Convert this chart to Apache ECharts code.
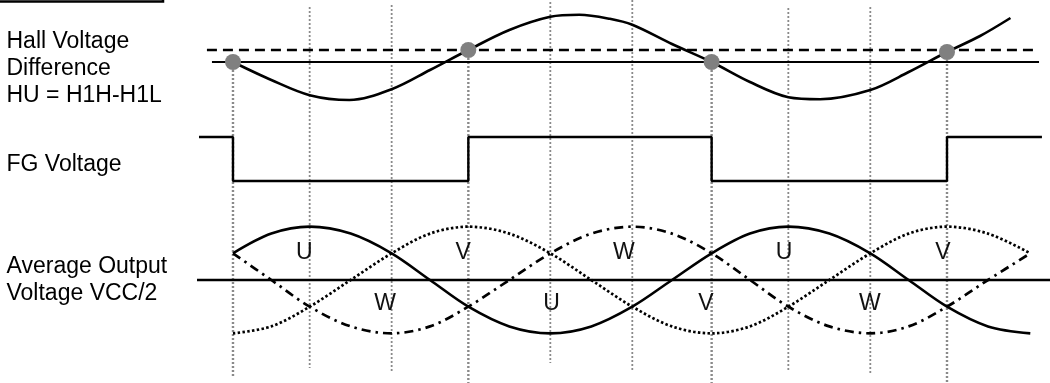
<!DOCTYPE html>
<html><head><meta charset="utf-8">
<script src="https://cdn.jsdelivr.net/npm/echarts@6/dist/echarts.min.js"></script>
<style>html,body{margin:0;padding:0;background:#fff}#c{width:1050px;height:383px}</style>
</head><body><div id="c"></div>
<script>
// x: electrical angle in degrees (0 = first FG falling edge)
const X_MIN = -176.2, X_MAX = 617.9;

// vertical dotted guide lines (rows of the diagram, 0 = top)
const guideX      = [0, 58, 120, 178, 240, 302, 362, 420, 482, 540];
const guideTop    = [62, 7, 5, 50, 2, 0, 62, 8, 7, 52];
const guideBottom = [377, 368, 373, 383, 363, 370, 383, 370, 375, 383];
const guideEvent  = [true, false, false, true, false, false, true, false, false, true];

// Hall voltage difference HU (relative units, 0 = reference level)
const hallX = [0, 29, 58, 88, 120, 149, 178, 209, 240, 262, 285, 302, 332, 362, 391, 420, 444, 482, 511, 540, 565, 588];
const hallY = [0, -0.45, -0.83, -0.95, -0.68, -0.2, 0.3, 0.8, 1.13, 1.18, 1.08, 0.93, 0.45, 0, -0.5, -0.88, -0.93, -0.7, -0.25, 0.25, 0.65, 1.1];
const hallRefX = [-15.9, 609.6];
const hallRefLevel = 0;
const hallThrX = [-19.7, 606.6];
const hallThrLevel = 0.3;
const eventX = [0, 178, 362, 540];
const eventY = [0, 0.3, 0, 0.25];

// FG voltage (1 = high, 0 = low)
const fgX = [-25.7, 0, 178, 362, 540, 611.8];
const fgY = [1, 0, 1, 0, 1, 1];

// Average output voltages (relative to VCC/2)
const phaseX = [0, 29, 58, 89, 120, 149, 178, 209, 240, 271, 302, 332, 362, 391, 420, 451, 482, 511, 540, 571, 603];
const uY = [0.5, 0.87, 1, 0.87, 0.5, 0, -0.5, -0.87, -1, -0.87, -0.5, 0, 0.5, 0.87, 1, 0.87, 0.5, 0, -0.5, -0.87, -1];
const vY = [-1, -0.87, -0.5, 0, 0.5, 0.87, 1, 0.87, 0.5, 0, -0.5, -0.87, -1, -0.87, -0.5, 0, 0.5, 0.87, 1, 0.87, 0.5];
const wY = [0.5, 0, -0.5, -0.87, -1, -0.87, -0.5, 0, 0.5, 0.87, 1, 0.87, 0.5, 0, -0.5, -0.87, -1, -0.87, -0.5, 0, 0.5];
const vccX = [-27.2, 617.9];
const vccLevel = 0;

const phaseLabels = ['U', 'V', 'W', 'U', 'V', 'W', 'U', 'V', 'W'];
const phaseLabelX = [54, 174, 295.7, 416.7, 537, 115, 241, 357.7, 481.7];
const phaseLabelY = [0.51, 0.51, 0.51, 0.51, 0.51, -0.45, -0.45, -0.45, -0.45];

const zip = (xs, ys) => xs.map((x, i) => [x, ys[i]]);
const FONT = "'Liberation Sans', Arial, sans-serif";

const xAxes = [0, 1, 2, 3].map(i => ({ type: 'value', gridIndex: i, min: X_MIN, max: X_MAX, show: false }));
const yAxes = [
  { type: 'value', gridIndex: 0, min: -1.5, max: 1.5, show: false },
  { type: 'value', gridIndex: 1, min: -0.5, max: 1.5, show: false },
  { type: 'value', gridIndex: 2, min: -1.5, max: 1.5, show: false },
  { type: 'value', gridIndex: 3, min: 0, max: 383, inverse: true, show: false }
];

const series = [];
guideX.forEach((x, i) => {
  series.push({
    type: 'line', xAxisIndex: 3, yAxisIndex: 3, z: 1, silent: true, symbol: 'none', clip: false,
    data: [[x, guideTop[i]], [x, guideBottom[i]]],
    lineStyle: { color: '#8a8a8a', width: guideEvent[i] ? 2.4 : 1.8, type: [2, 2] }
  });
});
const lineS = (g, data, style, extra) => Object.assign({
  type: 'line', xAxisIndex: g, yAxisIndex: g, z: 3, symbol: 'none', clip: false, silent: true,
  data, lineStyle: Object.assign({ color: '#000' }, style)
}, extra || {});

series.push(lineS(0, zip(hallThrX, hallThrX.map(() => hallThrLevel)), { width: 2.6, type: [10, 6] }));
series.push(lineS(0, zip(hallRefX, hallRefX.map(() => hallRefLevel)), { width: 2.2 }));
series.push(lineS(0, zip(hallX, hallY), { width: 2.6 }, { smooth: 0.33 }));
series.push({
  type: 'scatter', xAxisIndex: 0, yAxisIndex: 0, z: 5, silent: true, symbolSize: 16,
  data: zip(eventX, eventY), itemStyle: { color: '#808080', opacity: 1 }
});
series.push(lineS(1, zip(fgX, fgY), { width: 2.4 }, { step: 'end' }));
series.push(lineS(2, zip(vccX, vccX.map(() => vccLevel)), { width: 2.6 }));
series.push(lineS(2, zip(phaseX, uY), { width: 2.6 }, { smooth: 0.33 }));
series.push(lineS(2, zip(phaseX, vY), { width: 2.7, type: [2.5, 2.3] }, { smooth: 0.33 }));
series.push(lineS(2, zip(phaseX, wY), { width: 2.7, type: [9, 5, 2.5, 5] }, { smooth: 0.33 }));
series.push({
  type: 'scatter', xAxisIndex: 2, yAxisIndex: 2, z: 6, silent: true, symbolSize: 0,
  itemStyle: { color: '#111', opacity: 1 },
  data: phaseLabels.map((t, i) => ({ name: t, value: [phaseLabelX[i], phaseLabelY[i]] })),
  label: { show: true, position: 'inside', formatter: p => p.name, color: '#111', opacity: 1, textBorderWidth: 0, fontSize: 23, fontFamily: FONT }
});

const chart = echarts.init(document.getElementById('c'), null, { renderer: 'canvas' });
chart.setOption({
  animation: false,
  backgroundColor: '#fff',
  grid: [
    { left: 0, right: 0, top: 2, height: 120 },
    { left: 0, right: 0, top: 115, height: 88 },
    { left: 0, right: 0, top: 200, height: 160 },
    { left: 0, right: 0, top: 0, height: 383 }
  ],
  xAxis: xAxes,
  yAxis: yAxes,
  series,
  graphic: [
    { type: 'rect', shape: { x: -5, y: -5, width: 168, height: 6.5 }, style: { fill: 'none', stroke: '#000', lineWidth: 2.5 }, z: 10 },
    { type: 'text', x: 6.5, y: 27.8, style: { text: 'Hall Voltage\nDifference\nHU = H1H-H1L', font: '23px ' + FONT, lineHeight: 27, fill: '#000', verticalAlign: 'top' }, z: 10 },
    { type: 'text', x: 6.5, y: 164.5, style: { text: 'FG Voltage', font: '23px ' + FONT, fill: '#000', verticalAlign: 'middle' }, z: 10 },
    { type: 'text', x: 6.5, y: 253, style: { text: 'Average Output\nVoltage VCC/2', font: '23px ' + FONT, lineHeight: 27, fill: '#000', verticalAlign: 'top' }, z: 10 }
  ]
});
</script></body></html>
